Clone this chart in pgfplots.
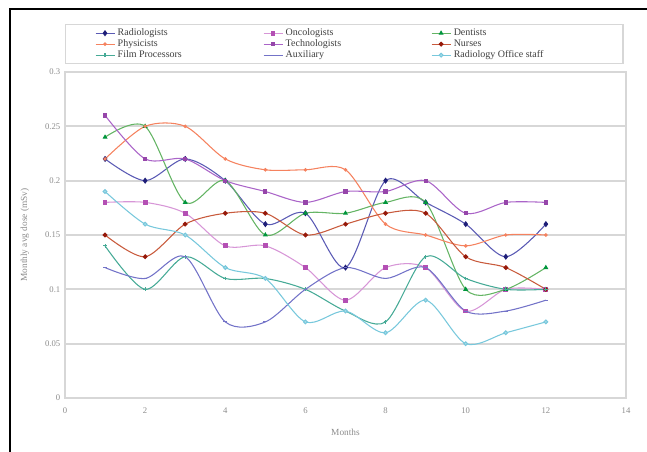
\documentclass[border=0pt]{standalone}
\usepackage{pgfplots}
\pgfplotsset{compat=1.18}
\usepackage{fontspec}
\setmainfont{Liberation Serif}
\definecolor{radline}{RGB}{90,90,180}
\definecolor{radmark}{RGB}{30,30,120}
\definecolor{oncline}{RGB}{215,150,215}
\definecolor{oncmark}{RGB}{180,80,180}
\definecolor{dentline}{RGB}{100,180,100}
\definecolor{dentmark}{RGB}{0,150,60}
\definecolor{phys}{RGB}{245,130,95}
\definecolor{techline}{RGB}{170,100,200}
\definecolor{techmark}{RGB}{150,70,170}
\definecolor{nurseline}{RGB}{200,90,60}
\definecolor{nursemark}{RGB}{150,25,10}
\definecolor{film}{RGB}{70,170,150}
\definecolor{aux}{RGB}{115,115,200}
\definecolor{office}{RGB}{120,200,220}
\definecolor{gridgray}{RGB}{215,215,215}
\definecolor{txtgray}{RGB}{140,140,140}
\newcommand{\la}[1]{\makebox[107pt][l]{#1}}
\newcommand{\lc}[1]{\makebox[103pt][l]{#1}}
\begin{document}
\begin{tikzpicture}
\useasboundingbox (0,0) rectangle (485.25pt,339pt);
\draw[black, line width=0.8pt] (7.5pt,0) -- (7.5pt,332.25pt) -- (485.25pt,332.25pt);
\begin{axis}[
  at={(48.75pt,40.5pt)}, anchor=south west,
  width=420.75pt, height=244.5pt, scale only axis,
  xmin=0, xmax=14, ymin=0, ymax=0.3,
  xtick={0,2,...,14},
  ytick={0,0.05,0.1,0.15,0.2,0.25,0.3},
  yticklabels={0,0.05,0.1,0.15,0.2,0.25,0.3},
  ymajorgrids,
  major grid style={gridgray, line width=1.4pt},
  axis line style={gridgray, line width=1pt},
  tick style={draw=none},
  ticklabel style={font=\fontsize{6.5}{7}\selectfont, text=txtgray},
  xticklabel style={yshift=-4pt},
  /pgf/number format/assume math mode=true,
  xlabel={Months},
  ylabel={Monthly avg dose (mSv)},
  label style={font=\fontsize{7}{8}\selectfont, text=txtgray},
  xlabel style={at={(rel axis cs:0.5,-0.104)}, anchor=center},
  ylabel style={at={(rel axis cs:-0.0713,0.5)}, anchor=center},
  legend columns=3,
  legend style={at={(rel axis cs:0,1.147)}, anchor=north west,
    draw=gridgray, line width=1pt, font=\fontsize{7.5}{8}\selectfont,
    inner xsep=22pt, inner ysep=1pt, row sep=-2.5pt, column sep=0pt,
    text=black!75},
  legend image code/.code={
    \draw[mark repeat=2,mark phase=2,#1] plot coordinates {(0cm,0cm) (0.25cm,0cm) (0.5cm,0cm)};},
  every axis plot/.append style={line width=0.8pt, smooth, mark size=1.4pt},
]
\addplot[radline, mark=diamond*, mark size=1.7pt, mark options={radmark, fill=radmark}] coordinates {
 (1,0.22) (2,0.20) (3,0.22) (4,0.20) (5,0.16) (6,0.17) (7,0.12) (8,0.20) (9,0.18) (10,0.16) (11,0.13) (12,0.16)};
\addlegendentry{\la{Radiologists}}
\addplot[oncline, mark=square*, mark options={oncmark, fill=oncmark}] coordinates {
 (1,0.18) (2,0.18) (3,0.17) (4,0.14) (5,0.14) (6,0.12) (7,0.09) (8,0.12) (9,0.12) (10,0.08) (11,0.10) (12,0.10)};
\addlegendentry{\la{Oncologists}}
\addplot[dentline, mark=triangle*, mark options={dentmark, fill=dentmark}] coordinates {
 (1,0.24) (2,0.25) (3,0.18) (4,0.20) (5,0.15) (6,0.17) (7,0.17) (8,0.18) (9,0.18) (10,0.10) (11,0.10) (12,0.12)};
\addlegendentry{\lc{Dentists}}
\addplot[phys, mark=*, mark size=0.9pt, mark options={phys, fill=phys}] coordinates {
 (1,0.22) (2,0.25) (3,0.25) (4,0.22) (5,0.21) (6,0.21) (7,0.21) (8,0.16) (9,0.15) (10,0.14) (11,0.15) (12,0.15)};
\addlegendentry{\la{Physicists}}
\addplot[techline, mark=square*, mark size=1.2pt, mark options={techmark, fill=techmark}] coordinates {
 (1,0.26) (2,0.22) (3,0.22) (4,0.20) (5,0.19) (6,0.18) (7,0.19) (8,0.19) (9,0.20) (10,0.17) (11,0.18) (12,0.18)};
\addlegendentry{\la{Technologists}}
\addplot[nurseline, mark=*, mark options={nursemark, fill=nursemark}] coordinates {
 (1,0.15) (2,0.13) (3,0.16) (4,0.17) (5,0.17) (6,0.15) (7,0.16) (8,0.17) (9,0.17) (10,0.13) (11,0.12) (12,0.10)};
\addlegendentry{\lc{Nurses}}
\addplot[film, mark=+, mark options={film}] coordinates {
 (1,0.14) (2,0.10) (3,0.13) (4,0.11) (5,0.11) (6,0.10) (7,0.08) (8,0.07) (9,0.13) (10,0.11) (11,0.10) (12,0.10)};
\addlegendentry{\la{Film Processors}}
\addplot[aux, mark=-, mark options={aux}] coordinates {
 (1,0.12) (2,0.11) (3,0.13) (4,0.07) (5,0.07) (6,0.10) (7,0.12) (8,0.11) (9,0.12) (10,0.08) (11,0.08) (12,0.09)};
\addlegendentry{\la{Auxiliary}}
\addplot[office, mark=*, mark options={office, fill=office!60}] coordinates {
 (1,0.19) (2,0.16) (3,0.15) (4,0.12) (5,0.11) (6,0.07) (7,0.08) (8,0.06) (9,0.09) (10,0.05) (11,0.06) (12,0.07)};
\addlegendentry{\lc{Radiology Office staff}}
\end{axis}
\end{tikzpicture}
\end{document}
